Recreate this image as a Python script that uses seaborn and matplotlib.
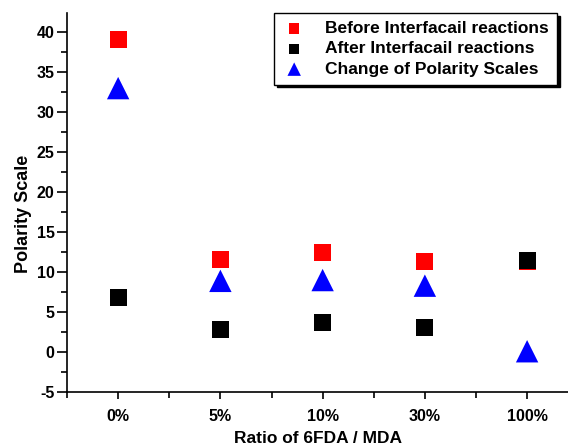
import numpy as np
import pandas as pd
import matplotlib
matplotlib.use("Agg")
import matplotlib.pyplot as plt
from matplotlib.ticker import MultipleLocator
import seaborn as sns

sns.set_theme(style="ticks")
plt.rcParams['font.family'] = ['Liberation Sans', 'DejaVu Sans']
plt.rcParams['font.weight'] = 'bold'
plt.rcParams['axes.unicode_minus'] = False
plt.rcParams['axes.labelcolor'] = 'black'
plt.rcParams['text.color'] = 'black'

ratios = ['0%', '5%', '10%', '30%', '100%']
before = [39.1, 11.6, 12.5, 11.3, 11.3]
after = [6.8, 2.8, 3.7, 3.1, 11.5]
change = [33.0, 8.9, 9.0, 8.3, 0.1]

labels = ['Before Interfacail reactions', 'After Interfacail reactions', 'Change of Polarity Scales']
colors = ['#ff0000', '#000000', '#0000ff']
markers = ['s', 's', '^']
sizes = [150, 150, 260]

x = np.arange(len(ratios))

fig = plt.figure(figsize=(5.68, 4.46), dpi=100)
ax = fig.add_axes([0.118, 0.121, 0.882, 0.85])

for vals, lab, col, mk, sz in zip([before, after, change], labels, colors, markers, sizes):
    df = pd.DataFrame({'x': x, 'y': vals})
    sns.scatterplot(data=df, x='x', y='y', ax=ax, color=col, marker=mk, s=sz,
                    edgecolor='none', label=lab, zorder=3)

ax.set_xlim(-0.5, 4.4)
ax.set_ylim(-5, 42.4)
ax.set_xticks(x)
ax.set_xticklabels(ratios)
ax.xaxis.set_minor_locator(MultipleLocator(1, offset=0.5))
ax.yaxis.set_major_locator(MultipleLocator(5))
ax.yaxis.set_minor_locator(MultipleLocator(2.5))
ax.tick_params(axis='both', which='major', direction='out', length=5, width=1.2,
               labelsize=11.5, color='black', labelcolor='black')
ax.tick_params(axis='y', which='major', length=7, pad=2)
ax.tick_params(axis='both', which='minor', direction='out', length=4, width=1.2, color='black')
ax.tick_params(axis='x', which='major', pad=7)
for t in ax.get_xticklabels() + ax.get_yticklabels():
    t.set_fontweight('bold')

for side in ['top', 'right']:
    ax.spines[side].set_visible(False)
for side in ['left', 'bottom']:
    ax.spines[side].set_color('black')
    ax.spines[side].set_linewidth(1.2)

ax.set_xlabel('Ratio of 6FDA / MDA', fontsize=12.5, fontweight='bold', labelpad=5, color='black')
ax.set_ylabel('Polarity Scale', fontsize=13, fontweight='bold', color='black')
ax.yaxis.set_label_coords(-0.07, 0.47)

leg = ax.legend(loc='upper right', bbox_to_anchor=(557 / 568, 433 / 446),
                bbox_transform=fig.transFigure, frameon=True, fancybox=False,
                shadow={'color': 'black', 'alpha': 1}, markerscale=0.6,
                prop={'size': 12.5, 'weight': 'bold'}, borderaxespad=0,
                handlelength=1.4, handletextpad=1.1, labelspacing=0.3, borderpad=0.45)
leg.get_frame().set_edgecolor('black')
leg.get_frame().set_linewidth(1.0)
leg.get_frame().set_alpha(1)

fig.savefig('out.png', dpi=100)
